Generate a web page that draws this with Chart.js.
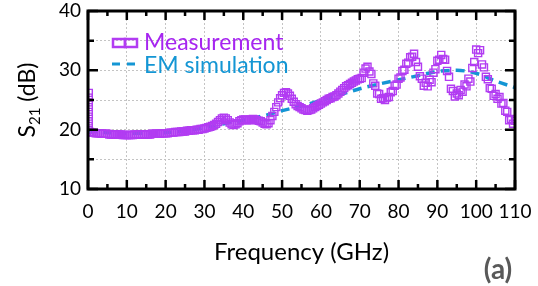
<!DOCTYPE html>
<html>
<head>
<meta charset="utf-8">
<script src="https://cdn.jsdelivr.net/npm/chart.js@4.4.1/dist/chart.umd.min.js"></script>
<style>
    html, body { margin: 0; padding: 0; background: #fff; }
    #wrap { width: 538px; height: 286px; }
</style>
</head>
<body>
<div id="wrap"><canvas id="chart-s21" width="538" height="286"></canvas></div>
<script>
// ================================================================
// S21 x Frequência — medição vs simulação EM
// ================================================================

const FONTE = 'Lato, "Open Sans", sans-serif';
const COR_MEDIDA = '#b23cf2';
const COR_MEDIDA_TXT = '#a625f0';
const COR_SIM = '#1496d4';

// Medição (GHz, dB)
const freqMedida = [
    0.2, 0.2, 0.2, 0.2, 0.2, 0.2, 0.2, 0.2, 0.2,
    0.5, 1, 1.5, 2, 2.5, 3, 3.5, 4, 4.5, 5, 5.5, 6, 6.5, 7, 7.5, 8, 8.5, 9, 9.5, 10,
    10.5, 11, 11.5, 12, 12.5, 13, 13.5, 14, 14.5, 15, 15.5, 16, 16.5, 17, 17.5, 18, 18.5, 19, 19.5, 20,
    20.5, 21, 21.5, 22, 22.5, 23, 23.5, 24, 24.5, 25, 25.5, 26, 26.5, 27, 27.5, 28, 28.5, 29, 29.5, 30,
    30.5, 31, 31.5, 32, 32.5, 33, 33.5, 34, 34.5, 35, 35.5, 36, 36.5, 37, 37.5, 38, 38.5, 39, 39.5, 40,
    40.5, 41, 41.5, 42, 42.5, 43, 43.5, 44, 44.5, 45, 45.5, 46, 46.5, 47, 47.5, 48, 48.5, 49, 49.5, 50,
    50.5, 51, 51.5, 52, 52.5, 53, 53.5, 54, 54.5, 55, 55.5, 56, 56.5, 57, 57.5, 58, 58.5, 59, 59.5, 60,
    60.5, 61, 61.5, 62, 62.5, 63, 63.5, 64, 64.5, 65, 65.5, 66, 66.5, 67, 67.5, 68, 68.5, 69, 69.5, 70,
    70.5, 71, 71.5, 72, 72.5, 73, 73.5, 74, 74.5, 75, 75.5, 76, 76.5, 77, 77.5, 78, 78.5, 79, 79.5, 80,
    80.5, 81, 81.5, 82, 82.5, 83, 83.5, 84, 84.5, 85, 85.5, 86, 86.5, 87, 87.5, 88, 88.5, 89, 89.5, 90,
    90.5, 91, 91.5, 92, 92.5, 93, 93.5, 94, 94.5, 95, 95.5, 96, 96.5, 97, 97.5, 98, 98.5, 99, 99.5, 100,
    100.5, 101, 101.5, 102, 102.5, 103, 103.5, 104, 104.5, 105, 105.5, 106, 106.5, 107, 107.5, 108, 108.5, 109, 109.5, 110
];
const s21Medida = [
    26.2, 25.4, 24.6, 23.8, 23.0, 22.2, 21.4, 20.6, 19.9,
    19.6, 19.5, 19.5, 19.4, 19.4, 19.4, 19.3, 19.3, 19.3, 19.3, 19.2, 19.2, 19.2, 19.2, 19.2, 19.2, 19.2, 19.1, 19.1, 19.1,
    19.1, 19.1, 19.1, 19.2, 19.2, 19.2, 19.2, 19.2, 19.2, 19.2, 19.2, 19.2, 19.3, 19.3, 19.3, 19.3, 19.3, 19.4, 19.4, 19.4,
    19.4, 19.5, 19.5, 19.5, 19.6, 19.6, 19.6, 19.7, 19.7, 19.7, 19.8, 19.8, 19.9, 19.9, 19.9, 20.0, 20.0, 20.1, 20.1, 20.2,
    20.3, 20.4, 20.5, 20.6, 20.8, 21.0, 21.3, 21.6, 21.9, 22.0, 21.9, 21.6, 21.2, 20.9, 20.8, 20.9, 21.1, 21.4, 21.6, 21.7,
    21.7, 21.6, 21.6, 21.7, 21.8, 21.7, 21.6, 21.5, 21.4, 21.2, 21.0, 20.9, 21.1, 21.6, 22.3, 23.0, 23.8, 24.6, 25.3, 25.8,
    26.2, 26.3, 26.1, 25.7, 25.2, 24.7, 24.3, 24.0, 23.8, 23.6, 23.4, 23.3, 23.2, 23.3, 23.4, 23.6, 23.8, 24.0, 24.2, 24.4,
    24.6, 24.8, 25.0, 25.2, 25.3, 25.5, 25.6, 25.8, 26.1, 26.4, 26.7, 27.0, 27.3, 27.5, 27.7, 27.9, 28.1, 28.3, 28.5, 28.6,
    28.7, 29.6, 30.3, 30.6, 29.8, 29.4, 27.8, 27.4, 26.1, 26.0, 25.2, 25.3, 25.0, 25.4, 25.5, 26.3, 26.5, 27.4, 27.6, 28.6,
    28.8, 29.9, 30.1, 31.1, 31.3, 32.2, 32.3, 32.8, 31.4, 30.6, 29.0, 28.6, 27.4, 27.9, 27.3, 28.4, 28.0, 29.6, 30.2, 31.6,
    31.8, 32.6, 31.9, 31.8, 29.9, 28.9, 26.9, 26.5, 25.6, 26.1, 25.8, 26.7, 26.4, 27.6, 27.3, 28.6, 28.1, 30.4, 31.4, 33.5,
    32.9, 33.4, 31.0, 30.5, 28.9, 28.5, 27.0, 26.9, 25.7, 26.0, 25.2, 25.5, 24.4, 24.5, 23.2, 23.0, 21.6, 21.8, 21.0, 21.5
];

// Simulação EM (GHz, dB)
const freqSimulacao = [0, 5, 10, 15, 20, 25, 30, 35, 40, 45, 50, 55, 60, 65, 70, 75, 80, 85, 90, 95, 100, 105, 110];
const s21Simulacao  = [19.8, 19.5, 19.4, 19.4, 19.5, 19.8, 20.3, 21.0, 21.6, 22.3, 23.2, 24.0, 24.9, 25.9, 26.9, 27.7, 28.4, 29.1, 29.8, 30.0, 29.5, 28.2, 27.1];

// Eixos
const ticksX = [0, 10, 20, 30, 40, 50, 60, 70, 80, 90, 100, 110];
const ticksXMenores = [5, 15, 25, 35, 45, 55, 65, 75, 85, 95, 105];
const ticksY = [10, 20, 30, 40];
const ticksYMenores = [15, 25, 35];
const gradeY = [10, 15, 20, 25, 30, 35, 40];

const legendas = ['Measurement', 'EM simulation'];

// Moldura + ticks internos + legenda + títulos extras
const pluginDecoracao = {
    id: 'decoracao',
    afterDatasetsDraw(chart) {
        const { ctx, chartArea: a, scales: { x, y } } = chart;
        ctx.save();
        ctx.strokeStyle = '#000';
        ctx.lineCap = 'butt';

        // ticks
        ctx.lineWidth = 2.5;
        const tickX = (v, len) => {
            const px = x.getPixelForValue(v);
            ctx.beginPath();
            ctx.moveTo(px, a.bottom); ctx.lineTo(px, a.bottom - len);
            ctx.moveTo(px, a.top);    ctx.lineTo(px, a.top + len);
            ctx.stroke();
        };
        const tickY = (v, len) => {
            const py = y.getPixelForValue(v);
            ctx.beginPath();
            ctx.moveTo(a.left, py);  ctx.lineTo(a.left + len, py);
            ctx.moveTo(a.right, py); ctx.lineTo(a.right - len, py);
            ctx.stroke();
        };
        ticksX.forEach(v => tickX(v, 9));
        ticksXMenores.forEach(v => tickX(v, 5));
        ticksY.forEach(v => tickY(v, 10));
        ticksYMenores.forEach(v => tickY(v, 6));

        // moldura
        ctx.lineWidth = 3;
        ctx.strokeRect(a.left, a.top, a.right - a.left, a.bottom - a.top);

        // legenda
        ctx.lineWidth = 2.5;
        ctx.strokeStyle = COR_MEDIDA;
        ctx.strokeRect(113, 39, 12, 8);
        ctx.strokeRect(125, 39, 12, 8);
        ctx.strokeStyle = COR_SIM;
        ctx.lineWidth = 3;
        ctx.beginPath();
        ctx.moveTo(112, 64); ctx.lineTo(120, 64);
        ctx.moveTo(127, 64); ctx.lineTo(135, 64);
        ctx.stroke();

        ctx.font = `23px ${FONTE}`;
        ctx.textAlign = 'left';
        ctx.textBaseline = 'alphabetic';
        ctx.fillStyle = COR_MEDIDA_TXT;
        ctx.fillText(legendas[0], 144, 50);
        ctx.fillStyle = COR_SIM;
        ctx.fillText(legendas[1], 144, 73);
        ctx.restore();
    },
    afterDraw(chart) {
        const { ctx, chartArea: a } = chart;
        ctx.save();
        // título do eixo Y com subscrito
        const cy = (a.top + a.bottom) / 2;
        ctx.translate(35, cy);
        ctx.rotate(-Math.PI / 2);
        ctx.fillStyle = '#000';
        ctx.textBaseline = 'alphabetic';
        const fGrande = `23px ${FONTE}`, fPeq = `15px ${FONTE}`;
        ctx.font = fGrande; const wS = ctx.measureText('S').width;
        const wResto = ctx.measureText(' (dB)').width;
        ctx.font = fPeq; const wSub = ctx.measureText('21').width;
        let px = -(wS + wSub + wResto) / 2;
        ctx.font = fGrande; ctx.fillText('S', px, 0); px += wS;
        ctx.font = fPeq; ctx.fillText('21', px, 5); px += wSub;
        ctx.font = fGrande; ctx.fillText(' (dB)', px, 0);
        ctx.restore();

        // rótulo do painel
        ctx.save();
        ctx.font = `bold 28px ${FONTE}`;
        ctx.fillStyle = '#595959';
        ctx.textAlign = 'center';
        ctx.textBaseline = 'middle';
        ctx.fillText('(a)', 498, 270);
        ctx.restore();
    }
};

const canvas = document.getElementById('chart-s21');

const grafico = new Chart(canvas, {
    type: 'scatter',
    data: {
        datasets: [
            {
                label: legendas[0],
                data: freqMedida.map((f, i) => ({ x: f, y: s21Medida[i] })),
                showLine: false,
                pointStyle: 'rect',
                pointRadius: 5,
                pointBorderWidth: 1.4,
                pointBorderColor: COR_MEDIDA,
                pointBackgroundColor: 'rgba(0,0,0,0)',
                order: 0
            },
            {
                label: legendas[1],
                data: freqSimulacao.map((f, i) => ({ x: f, y: s21Simulacao[i] })),
                showLine: true,
                borderColor: COR_SIM,
                borderWidth: 3.5,
                borderDash: [9, 6],
                pointRadius: 0,
                cubicInterpolationMode: 'monotone',
                order: 1
            }
        ]
    },
    options: {
        responsive: false,
        animation: false,
        devicePixelRatio: 1,
        layout: { padding: { top: 11, right: 23, left: 0, bottom: 0 } },
        plugins: {
            legend: { display: false },
            tooltip: { enabled: false }
        },
        scales: {
            x: {
                type: 'linear',
                min: 0,
                max: 110,
                afterBuildTicks: s => { s.ticks = ticksX.map(v => ({ value: v })); },
                afterFit: s => { s.height = 97; s.paddingLeft = 0; s.paddingRight = 0; },
                grid: { color: '#c4c4c4', lineWidth: 1, drawTicks: false },
                border: { display: false, dash: [2, 2] },
                ticks: { color: '#000', font: { family: FONTE, size: 19 }, padding: 11, maxRotation: 0, autoSkip: false },
                title: {
                    display: true,
                    text: 'Frequency (GHz)',
                    color: '#000',
                    font: { family: FONTE, size: 24 },
                    padding: { top: 0, bottom: 19 }
                }
            },
            y: {
                type: 'linear',
                min: 10,
                max: 40,
                afterBuildTicks: s => { s.ticks = gradeY.map(v => ({ value: v })); },
                afterFit: s => { s.width = 88; s.paddingTop = 0; s.paddingBottom = 0; },
                grid: { color: '#c4c4c4', lineWidth: 1, drawTicks: false },
                border: { display: false, dash: [2, 2] },
                ticks: {
                    color: '#000',
                    font: { family: FONTE, size: 19 },
                    padding: 7,
                    autoSkip: false,
                    callback: v => ticksY.includes(v) ? String(v) : ''
                }
            }
        }
    },
    plugins: [pluginDecoracao]
});
</script>
</body>
</html>
